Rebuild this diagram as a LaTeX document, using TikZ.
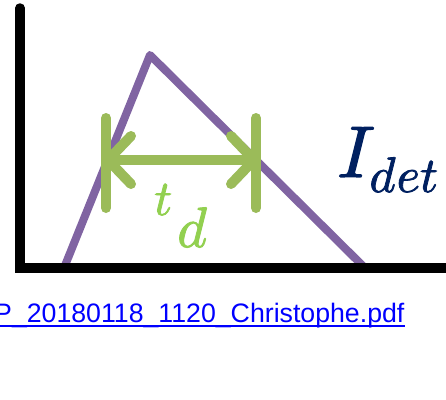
\documentclass[tikz,border=0pt]{standalone}
\usepackage{fontspec}
\usepackage{unicode-math}
\setmathfont{Latin Modern Math}[FakeBold=1.6]
\newfontfamily\linkfont{Liberation Sans}
\definecolor{axpurple}{HTML}{8064A2}
\definecolor{axgreen}{HTML}{9BBB59}
\definecolor{tdgreen}{HTML}{92D050}
\definecolor{navy}{HTML}{002060}
\definecolor{linkblue}{HTML}{0000FF}
\begin{document}
\begin{tikzpicture}[x=1pt,y=-1pt,
  axisline/.style={line width=9.5pt,black,line cap=round,line join=miter},
  peakline/.style={line width=8pt,axpurple,line cap=round,line join=round},
  greenline/.style={line width=10pt,axgreen,line cap=round,line join=round}]
\useasboundingbox (0,0) rectangle (446,399);
\begin{scope}
\clip (0,0) rectangle (446,399);
% peak
\coordinate (p1) at (64,268);
\coordinate (p2) at (150,55);
\coordinate (p3) at (365,268);
\draw[peakline] (p1) -- (p2) -- (p3);
% axes
\coordinate (ytop) at (20,8);
\coordinate (org) at (20,268);
\coordinate (xend) at (460,268);
\draw[axisline] (ytop) -- (org) -- (xend);
% td markers
\coordinate (lt) at (106,118); \coordinate (lb) at (106,208);
\coordinate (rt) at (256,118); \coordinate (rb) at (256,208);
\coordinate (la) at (108,160); \coordinate (ra) at (254,160);
\draw[greenline] (lt) -- (lb);
\draw[greenline] (rt) -- (rb);
\draw[greenline] (la) -- (ra);
\draw[greenline] (131,136) -- (la) -- (131,184);
\draw[greenline] (231,136) -- (ra) -- (231,184);
\end{scope}
% labels
\node[anchor=base west,inner sep=0pt,text=tdgreen] (td) at (154,215)
  {\fontsize{50}{54}\selectfont$t$\kern5pt\lower32pt\hbox{\fontsize{57}{60}\selectfont$d$}};
\node[anchor=base west,inner sep=0pt,text=navy] (idet) at (337,177)
  {\fontsize{73}{80}\selectfont$I$\kern-6pt\lower15pt\hbox{\fontsize{50}{55}\selectfont$det$}};
\node[anchor=base west,inner sep=0pt,text=linkblue] (lnk) at (-6,322)
  {\linkfont\fontsize{26.7}{30}\selectfont P\_20180118\_1120\_Christophe.pdf};
\draw[linkblue,line width=1.6pt] ([yshift=-4pt]lnk.base west) -- ([yshift=-4pt]lnk.base east);
\end{tikzpicture}
\end{document}
